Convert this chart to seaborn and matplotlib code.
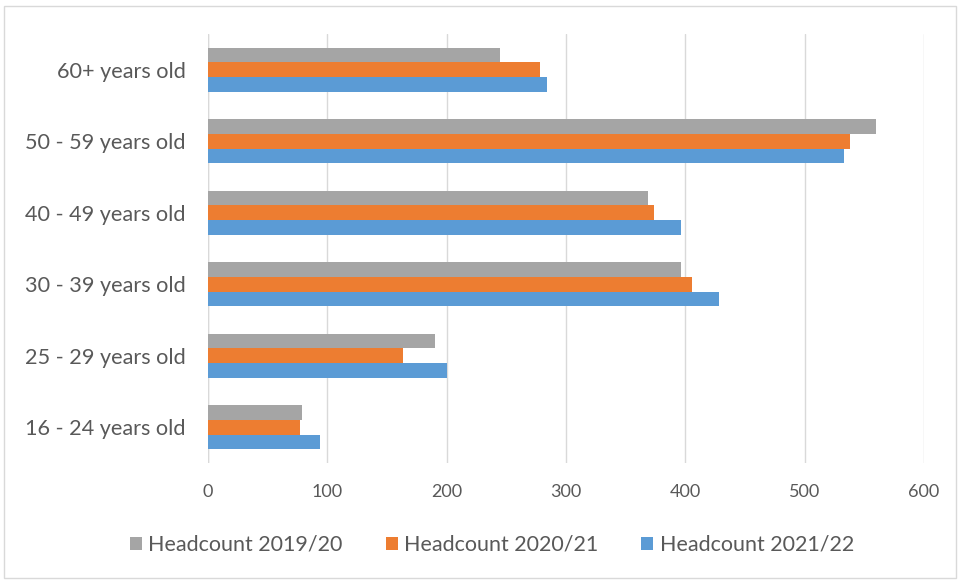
import matplotlib
matplotlib.use("Agg")
import matplotlib.pyplot as plt
import pandas as pd
import seaborn as sns
from matplotlib.patches import Rectangle

# Age bands, top to bottom
age_groups = ["60+ years old", "50 - 59 years old", "40 - 49 years old",
              "30 - 39 years old", "25 - 29 years old", "16 - 24 years old"]

headcount_2019_20 = [245, 560, 369, 396, 190, 79]
headcount_2020_21 = [278, 538, 374, 406, 163, 77]
headcount_2021_22 = [284, 533, 396, 428, 200, 94]

series_names = ["Headcount 2019/20", "Headcount 2020/21", "Headcount 2021/22"]
series_colors = ["#A5A5A5", "#ED7D31", "#5B9BD5"]
x_ticks = [0, 100, 200, 300, 400, 500, 600]

rows = []
for name, values in zip(series_names,
                        [headcount_2019_20, headcount_2020_21, headcount_2021_22]):
    for age, v in zip(age_groups, values):
        rows.append({"Age": age, "Series": name, "Headcount": v})
df = pd.DataFrame(rows)

sns.set_theme(style="white")
plt.rcParams["font.family"] = ["Lato", "DejaVu Sans"]

fig = plt.figure(figsize=(9.61, 5.81), dpi=100)
ax = fig.add_axes([208 / 961, 1 - 463 / 581, (924 - 208) / 961, (463 - 34) / 581])

sns.barplot(data=df, x="Headcount", y="Age", hue="Series", orient="h",
            order=age_groups, hue_order=series_names, palette=series_colors,
            width=0.62, gap=0, saturation=1, linewidth=0, ax=ax, legend=True)

ax.set_xlim(0, 600)
ax.set_xticks(x_ticks)
ax.set_xticklabels([str(t) for t in x_ticks])
ax.set_xlabel("")
ax.set_ylabel("")
ax.grid(axis="x", color="#D9D9D9", linewidth=1)
ax.set_axisbelow(True)
for side in ["top", "right", "bottom", "left"]:
    ax.spines[side].set_visible(False)
ax.axvline(0, color="#D9D9D9", linewidth=1, zorder=0)
ax.tick_params(axis="both", length=0, colors="#595959")
ax.tick_params(axis="x", labelsize=13, pad=15)
ax.tick_params(axis="y", labelsize=15.6, pad=16)

handles, labels = ax.get_legend_handles_labels()
ax.get_legend().remove()
fig.legend(handles, labels, loc="center", bbox_to_anchor=(0.512, 0.062),
           ncol=3, frameon=False, fontsize=15.5, labelcolor="#595959",
           handlelength=0.55, handleheight=0.55, handletextpad=0.3,
           columnspacing=2.0)

# Chart-area border
fig.patches.append(Rectangle((4 / 961, 3 / 581), 952 / 961, 572 / 581,
                             transform=fig.transFigure, fill=False,
                             edgecolor="#D9D9D9", linewidth=1))

fig.savefig("out.png", dpi=100)
